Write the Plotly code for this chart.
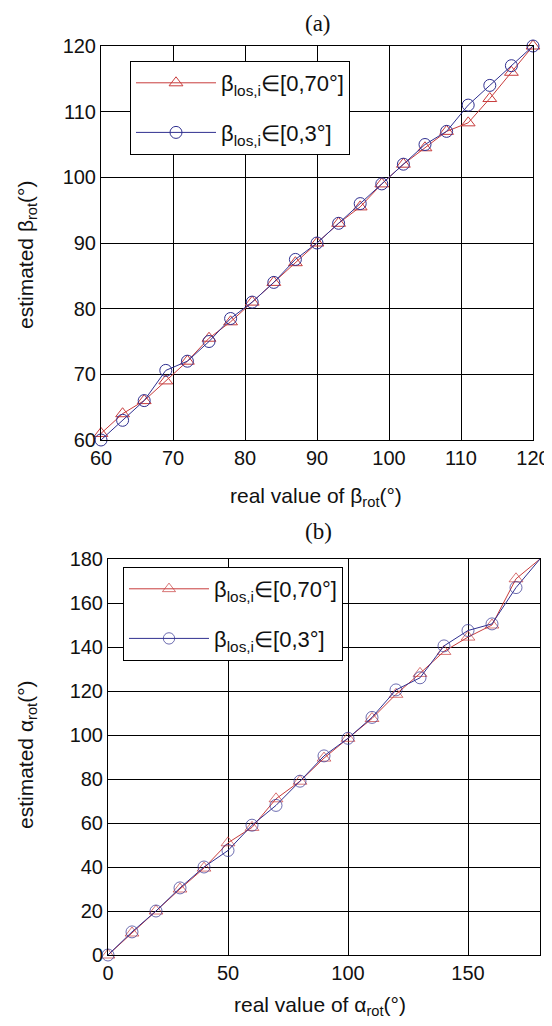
import plotly.graph_objects as go

# Panel (a) data
beta_real = [60, 63, 66, 69, 72, 75, 78, 81, 84, 87, 90, 93, 96, 99, 102, 105, 108, 111, 114, 117, 120]
beta_est_70 = [61, 64, 66, 69, 72, 75.5, 78, 81, 84, 87, 90, 93, 95.5, 99, 102, 104.5, 107, 108.3, 112, 116, 120]
beta_est_3 = [60, 63, 66, 70.6, 72, 75, 78.5, 81, 84, 87.5, 90, 93, 96, 99, 102, 105, 107, 111, 114, 117, 120]

# Panel (b) data
alpha_real = [0, 10, 20, 30, 40, 50, 60, 70, 80, 90, 100, 110, 120, 130, 140, 150, 160, 170, 180]
alpha_est_70 = [0, 10, 20, 30, 39.5, 51, 58, 71, 79, 89.5, 98.5, 107.5, 118.5, 128, 138, 144.5, 150, 171, 180]
alpha_est_3 = [0, 10.5, 20, 30.5, 40, 47.5, 59, 68, 79, 90.5, 98.5, 108, 120.5, 126, 140.5, 147.5, 150.5, 167, 180]

beta_ticks = [60, 70, 80, 90, 100, 110, 120]
alpha_xticks = [0, 50, 100, 150]
alpha_yticks = [0, 20, 40, 60, 80, 100, 120, 140, 160, 180]

legend_70 = "β<sub>los,i</sub>∈[0,70°]"
legend_3 = "β<sub>los,i</sub>∈[0,3°]"

RED = "#c83c3c"
BLUE = "#303090"
OFF = 8  # default page body margin
W, H = 552 - OFF, 1026 - OFF
SANS = "Liberation Sans, Arial, sans-serif"

fig = go.Figure()

tri = dict(symbol="triangle-up-open", size=12, color=RED, line=dict(width=1, color=RED))
cir = dict(symbol="circle-open", size=12, color=BLUE, line=dict(width=1, color=BLUE))

fig.add_trace(go.Scatter(x=beta_real, y=beta_est_70, mode="lines+markers", name=legend_70,
                         line=dict(color=RED, width=1), marker=tri, xaxis="x", yaxis="y",
                         legend="legend", legendgroup="a70", cliponaxis=False))
fig.add_trace(go.Scatter(x=beta_real, y=beta_est_3, mode="lines+markers", name=legend_3,
                         line=dict(color=BLUE, width=1), marker=cir, xaxis="x", yaxis="y",
                         legend="legend", legendgroup="a3", cliponaxis=False))

sizes_b = [12] * (len(alpha_real) - 1) + [0]
tri_b = dict(tri, size=sizes_b)
cir_b = dict(cir, size=sizes_b)
fig.add_trace(go.Scatter(x=alpha_real, y=alpha_est_70, mode="lines+markers", name=legend_70,
                         line=dict(color=RED, width=1), marker=tri_b, xaxis="x2", yaxis="y2",
                         legend="legend2", legendgroup="b70", cliponaxis=False))
fig.add_trace(go.Scatter(x=alpha_real, y=alpha_est_3, mode="lines+markers", name=legend_3,
                         line=dict(color=BLUE, width=1), marker=cir_b, xaxis="x2", yaxis="y2",
                         legend="legend2", legendgroup="b3", cliponaxis=False))


def px_x(p):
    return (p - OFF) / W


def px_y(p):
    return 1 - (p - OFF) / H


tickfont = dict(family=SANS, size=20, color="#111")

common = dict(showline=True, linecolor="black", linewidth=1, mirror="ticks",
              showgrid=True, gridcolor="black", gridwidth=1, zeroline=False,
              ticks="inside", ticklen=4, tickcolor="black", tickfont=tickfont,
              automargin=False)

legfont = dict(family=SANS, size=22, color="#111")

fig.update_layout(
    width=W, height=H,
    margin=dict(l=0, r=0, t=0, b=0),
    paper_bgcolor="white", plot_bgcolor="white",
    font=dict(family=SANS, color="#111"),
    xaxis=dict(domain=[px_x(101), px_x(533)], range=[60, 120], tickvals=beta_ticks,
               anchor="y", **common),
    yaxis=dict(domain=[px_y(440), px_y(46)], range=[60, 120], tickvals=beta_ticks,
               anchor="x", **common),
    xaxis2=dict(domain=[px_x(108), px_x(540)], range=[0, 180], tickvals=alpha_xticks,
                anchor="y2", **common),
    yaxis2=dict(domain=[px_y(955), px_y(559)], range=[0, 180], tickvals=alpha_yticks,
                anchor="x2", **common),
    legend=dict(x=px_x(130), y=px_y(61), xanchor="left", yanchor="top",
                bordercolor="black", borderwidth=1, bgcolor="white",
                font=legfont, itemwidth=80, tracegroupgap=18),
    legend2=dict(x=px_x(123), y=px_y(567), xanchor="left", yanchor="top",
                 bordercolor="black", borderwidth=1, bgcolor="white",
                 font=legfont, itemwidth=80, tracegroupgap=18),
    showlegend=True,
)

serif = dict(family="Liberation Serif, Times New Roman, serif", size=23, color="#111")
fig.add_annotation(text="(a)", x=px_x(318), y=px_y(23), xref="paper", yref="paper",
                   showarrow=False, font=serif, xanchor="center", yanchor="middle")
fig.add_annotation(text="(b)", x=px_x(318), y=px_y(531), xref="paper", yref="paper",
                   showarrow=False, font=serif, xanchor="center", yanchor="middle")

titlefont = dict(family=SANS, size=21, color="#111")
fig.add_annotation(text="real value of β<sub>rot</sub>(°)", x=px_x(316), y=px_y(497),
                   xref="paper", yref="paper", showarrow=False, font=titlefont,
                   xanchor="center", yanchor="middle")
fig.add_annotation(text="estimated β<sub>rot</sub>(°)", x=px_x(27), y=px_y(255),
                   xref="paper", yref="paper", showarrow=False, font=titlefont,
                   xanchor="center", yanchor="middle", textangle=-90)
fig.add_annotation(text="real value of α<sub>rot</sub>(°)", x=px_x(320), y=px_y(1006),
                   xref="paper", yref="paper", showarrow=False, font=titlefont,
                   xanchor="center", yanchor="middle")
fig.add_annotation(text="estimated α<sub>rot</sub>(°)", x=px_x(27), y=px_y(755),
                   xref="paper", yref="paper", showarrow=False, font=titlefont,
                   xanchor="center", yanchor="middle", textangle=-90)

fig.write_html("out.html")
